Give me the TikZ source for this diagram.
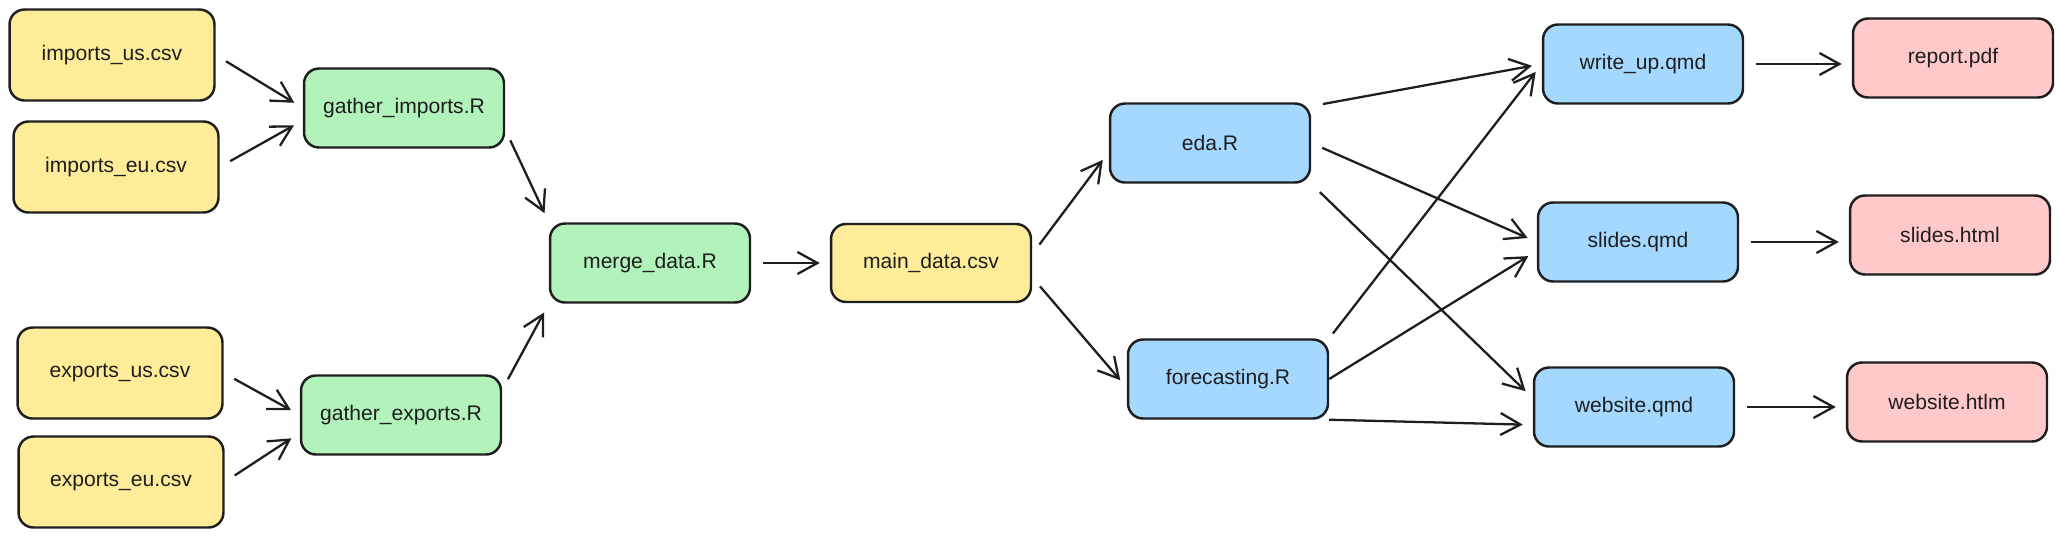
\documentclass[tikz,border=0pt]{standalone}
\usepackage{fontspec}
\setmainfont{Liberation Sans}
\usetikzlibrary{arrows.meta}

\begin{document}
\begin{tikzpicture}[x=0.02cm, y=-0.02cm, >={Straight Barb[length=4mm, width=4.4mm]},
    box/.style={draw=inkcol, line width=1.4pt, rounded corners=0.3cm,
        minimum width=4cm, minimum height=1.58cm, text=inkcol,
        font=\fontsize{12}{14}\selectfont},
    csv/.style={box, fill=csvfill, minimum width=4.1cm, minimum height=1.82cm},
    rscript/.style={box, fill=rfill},
    qmd/.style={box, fill=qmdfill},
    output/.style={box, fill=outfill},
    arr/.style={->, draw=inkcol, line width=1.3pt, shorten <=0.24cm, shorten >=0.2cm}]

    % Màu sắc
    \definecolor{inkcol}{HTML}{1E1E1E}
    \definecolor{csvfill}{HTML}{FFEC99}
    \definecolor{rfill}{HTML}{B2F2BB}
    \definecolor{qmdfill}{HTML}{A5D8FF}
    \definecolor{outfill}{HTML}{FFC9C9}

    \useasboundingbox (0,0) rectangle (2063,538);

    % 1. Dữ liệu đầu vào
    \node[csv] (imports_us) at (112,55)  {imports\_us.csv};
    \node[csv] (imports_eu) at (116,167) {imports\_eu.csv};
    \node[csv] (exports_us) at (120,373) {exports\_us.csv};
    \node[csv] (exports_eu) at (121,482) {exports\_eu.csv};

    % 2. Các script R
    \node[rscript] (gather_imports) at (404,108) {gather\_imports.R};
    \node[rscript] (gather_exports) at (401,415) {gather\_exports.R};
    \node[rscript] (merge_data)     at (650,263) {merge\_data.R};
    \node[csv, minimum width=4cm, minimum height=1.56cm] (main_data) at (931,263) {main\_data.csv};
    \node[qmd] (eda)         at (1210,143) {eda.R};
    \node[qmd] (forecasting) at (1228,379) {forecasting.R};

    % 3. Tài liệu qmd và kết quả
    \node[qmd] (write_up)    at (1643,64)  {write\_up.qmd};
    \node[qmd] (slides_qmd)  at (1638,242) {slides.qmd};
    \node[qmd] (website_qmd) at (1634,407) {website.qmd};
    \node[output] (report)       at (1953,58)  {report.pdf};
    \node[output] (slides_html)  at (1950,235) {slides.html};
    \node[output] (website_html) at (1947,402) {website.htlm};

    % 4. Mũi tên
    \draw[arr] (imports_us.east) -- (gather_imports.west);
    \draw[arr] (imports_eu.east) -- (gather_imports.187);
    \draw[arr] (exports_us.east) -- (gather_exports.west);
    \draw[arr] (exports_eu.east) -- (gather_exports.190);
    \draw[arr] (gather_imports.-12) -- (merge_data.north west);
    \draw[arr] (gather_exports.14) -- (merge_data.south west);
    \draw[arr] (merge_data.east) -- (main_data.west);
    \draw[arr] (main_data.5) -- (eda.185);
    \draw[arr] (main_data.-8) -- (forecasting.185);

    \draw[arr] (eda.20) -- (write_up.west);
    \draw[arr] (eda.east) -- (slides_qmd.west);
    \draw[arr] (eda.south east) -- (website_qmd.175);
    \draw[arr, shorten <=0.12cm] (forecasting.north east) -- (write_up.west);
    \draw[arr, shorten <=0] (forecasting.east) -- (slides_qmd.185);
    \draw[arr, shorten <=0] (forecasting.south east) -- (website_qmd.190);

    \draw[arr] (write_up.east) -- (write_up.east -| report.west);
    \draw[arr] (slides_qmd.east) -- (slides_qmd.east -| slides_html.west);
    \draw[arr] (website_qmd.east) -- (website_qmd.east -| website_html.west);
\end{tikzpicture}
\end{document}
